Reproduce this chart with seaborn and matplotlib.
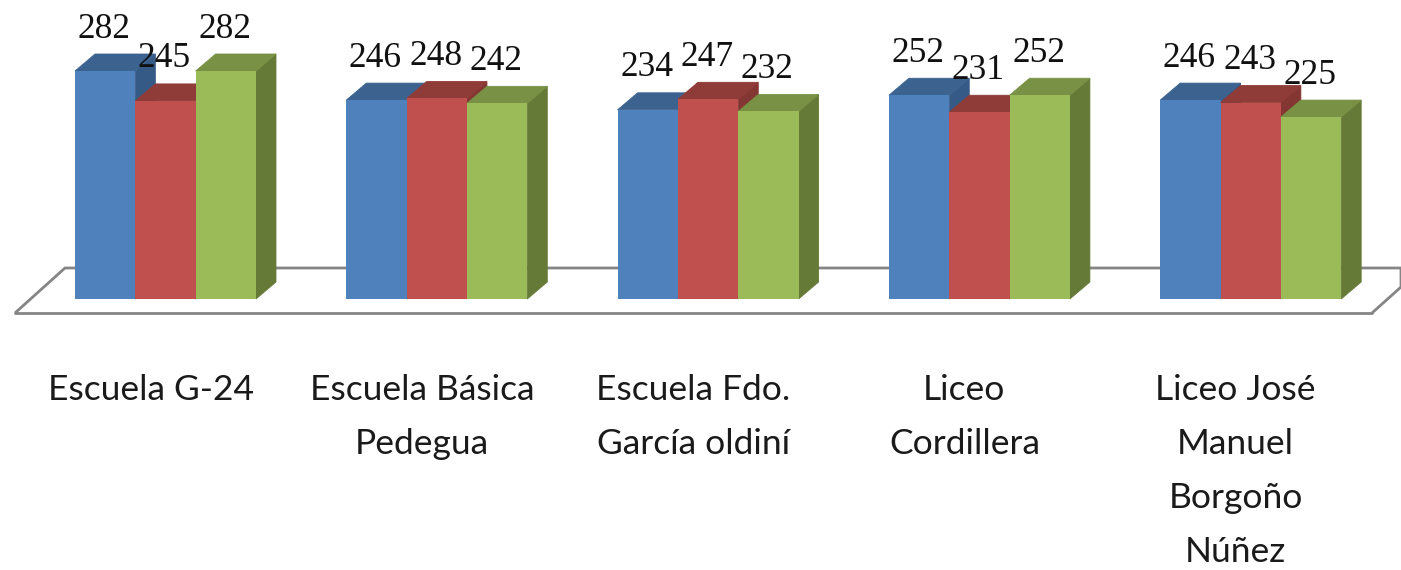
import matplotlib
matplotlib.use("Agg")
import matplotlib.pyplot as plt
import matplotlib.transforms as mtrans
from matplotlib.patches import Polygon
import seaborn as sns
import pandas as pd

schools = ["Escuela G-24", "Escuela Básica\nPedegua", "Escuela Fdo.\nGarcía oldiní",
           "Liceo\nCordillera", "Liceo José\nManuel\nBorgoño\nNúñez"]
series_names = ["Serie 1", "Serie 2", "Serie 3"]
serie1 = [282, 246, 234, 252, 246]
serie2 = [245, 248, 247, 231, 243]
serie3 = [282, 242, 232, 252, 225]
front = ["#4F81BD", "#C0504D", "#9BBB59"]
top = ["#3C6390", "#8F3B38", "#789144"]
side = ["#365A86", "#843633", "#667A38"]

W, H = 1401, 570
BASE = 299
PX_PER_UNIT = 0.8085
GROUP = 271.3
FIRST = 165.5

df = pd.DataFrame({
    "school": schools * 3,
    "serie": [s for s in series_names for _ in schools],
    "value": serie1 + serie2 + serie3,
})

sns.set_theme(style="white")
plt.rcParams["font.family"] = ["Liberation Serif", "DejaVu Serif"]

fig = plt.figure(figsize=(W / 100, H / 100), dpi=100, facecolor="white")
left = FIRST - GROUP / 2
ax = fig.add_axes([left / W, (H - BASE) / H, 5 * GROUP / W, BASE / H])
ax.patch.set_alpha(0)

sns.barplot(data=df, x="school", y="value", hue="serie", hue_order=series_names,
            palette=front, width=0.667, gap=0, dodge=True, saturation=1,
            legend=False, ax=ax, linewidth=0)
ax.set_xlim(-0.5, 4.5)
ax.set_ylim(0, BASE / PX_PER_UNIT)
ax.set_xlabel("")
ax.set_ylabel("")
ax.set_yticks([])
sns.despine(ax=ax, left=True, bottom=True)

dx = 20 / GROUP
dy = 17 / PX_PER_UNIT


def px(x, y):
    return (x - FIRST) / GROUP, (BASE - y) / PX_PER_UNIT


floor = [px(15, 313), px(65, 268), px(1401, 268), px(1401, 287), px(1372, 313)]
ax.add_patch(Polygon(floor, closed=False, facecolor="white", edgecolor="#858585",
                     linewidth=2.0, zorder=1, clip_on=False))
ax.plot(*zip(floor[4], floor[0]), color="#858585", lw=2.0, zorder=1.1, clip_on=False)

for s, container in enumerate(ax.containers):
    for g, bar in enumerate(container):
        x0, w, h = bar.get_x(), bar.get_width(), bar.get_height()
        z = 3 + g * 10 + s * 3
        ax.add_patch(Polygon([(x0 + w, 0), (x0 + w + dx, dy), (x0 + w + dx, h + dy), (x0 + w, h)],
                             facecolor=side[s], edgecolor=side[s], linewidth=0.6, zorder=z, clip_on=False))
        ax.add_patch(Polygon([(x0, h), (x0 + dx, h + dy), (x0 + w + dx, h + dy), (x0 + w, h)],
                             facecolor=top[s], edgecolor=top[s], linewidth=0.6, zorder=z + 1, clip_on=False))
        bar.set_zorder(z + 2)
        ax.text(x0 + w / 2 - 1 / GROUP, h + 42 / PX_PER_UNIT, str(int(h)), ha="center", va="center",
                fontsize=25.5, color="#111111", zorder=100, clip_on=False)

ax.tick_params(axis="x", length=0, pad=54)
shift = mtrans.ScaledTranslation(-15 / 100, 0, fig.dpi_scale_trans)
for lab in ax.get_xticklabels():
    lab.set_transform(lab.get_transform() + shift)
    lab.set_fontfamily(["Lato", "DejaVu Sans"])
    lab.set_fontsize(25.5)
    lab.set_linespacing(1.85)
    lab.set_color("#1a1a1a")
    lab.set_verticalalignment("top")

fig.savefig("out.png", dpi=100)
